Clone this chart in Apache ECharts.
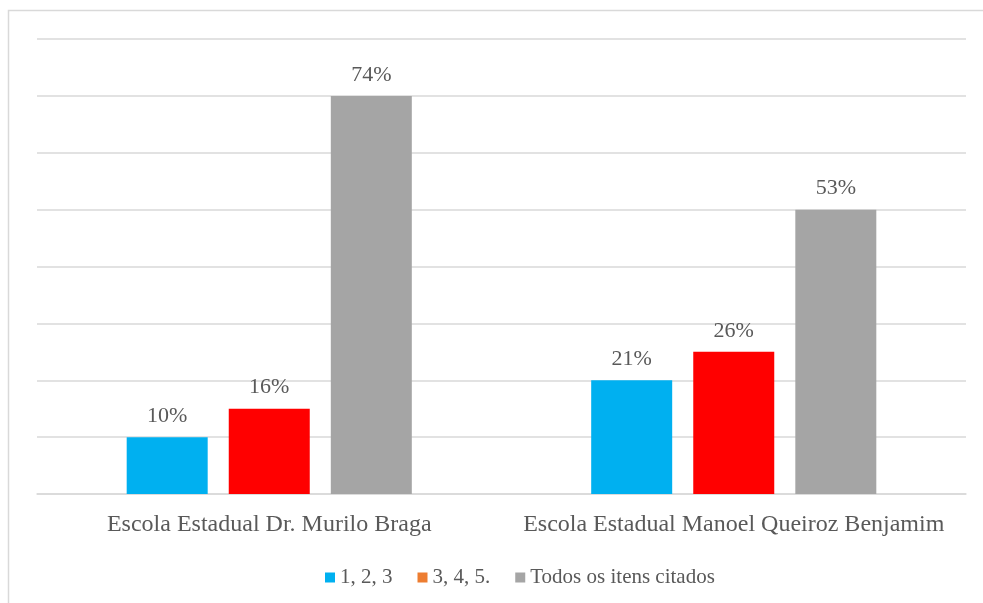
<!DOCTYPE html>
<html>
<head>
<meta charset="utf-8">
<script src="https://cdn.jsdelivr.net/npm/echarts@6/dist/echarts.min.js"></script>
<style>html,body{margin:0;padding:0;background:#fff;}#c{width:983px;height:603px;}</style>
</head>
<body>
<div id="c"></div>
<script>
const categories = ['Escola Estadual Dr. Murilo Braga', 'Escola Estadual Manoel Queiroz Benjamim'];
const seriesNames = ['1, 2, 3', '3, 4, 5.', 'Todos os itens citados'];
// bar heights as drawn on the (unlabelled) value axis
const heights123 = [10, 20];
const heights345 = [15, 25];
const heightsAll = [70, 50];
// data labels as printed in the picture
const labels123 = ['10%', '21%'];
const labels345 = ['16%', '26%'];
const labelsAll = ['74%', '53%'];

const font = 'Liberation Serif, Times New Roman, serif';
const txt = '#595959';

function mk(name, vals, labs, legendColor, barColor) {
  return {
    name: name, type: 'bar',
    barWidth: 81, barGap: '26%',
    itemStyle: { color: legendColor },
    data: vals.map((v) => ({ value: v, itemStyle: { color: barColor } })),
    label: {
      show: true, position: 'top', distance: 10,
      fontFamily: font, fontSize: 22, color: txt,
      formatter: p => labs[p.dataIndex]
    }
  };
}

const chart = echarts.init(document.getElementById('c'));
chart.setOption({
  animation: false,
  backgroundColor: '#fff',
  graphic: [{
    type: 'polyline', shape: { points: [[8.5, 700], [8.5, 10.5], [1100, 10.5]] },
    style: { fill: 'none', stroke: '#d9d9d9', lineWidth: 1.5 }, z: -1
  }],
  grid: { left: 37, right: 17, top: 39, bottom: 109 },
  legend: {
    bottom: 10, left: 320, itemWidth: 10, itemHeight: 10, itemGap: 25,
    icon: 'rect',
    textStyle: { fontFamily: font, fontSize: 21, color: txt },
    data: seriesNames
  },
  xAxis: {
    type: 'category', data: categories,
    axisLine: { lineStyle: { color: '#d9d9d9', width: 1.5 } },
    axisTick: { show: false },
    axisLabel: { fontFamily: font, fontSize: 24, color: txt, margin: 19, interval: 0, hideOverlap: false }
  },
  yAxis: {
    type: 'value', min: 0, max: 80, interval: 10,
    axisLabel: { show: false }, axisLine: { show: false }, axisTick: { show: false },
    splitLine: { lineStyle: { color: '#d9d9d9', width: 1.5 } }
  },
  series: [
    mk(seriesNames[0], heights123, labels123, '#00B0F0', '#00B0F0'),
    mk(seriesNames[1], heights345, labels345, '#ED7D31', '#FF0000'),
    mk(seriesNames[2], heightsAll, labelsAll, '#A5A5A5', '#A5A5A5')
  ]
});
</script>
</body>
</html>
